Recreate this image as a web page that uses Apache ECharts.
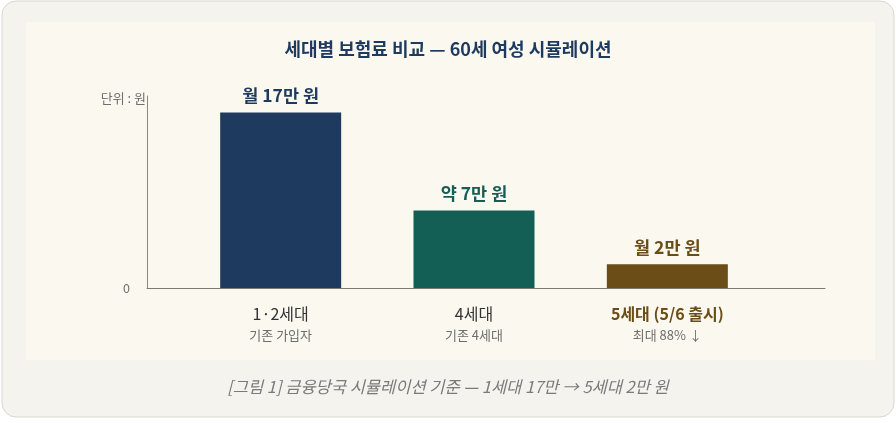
<!DOCTYPE html>
<html>
<head>
<meta charset="utf-8">
<script src="https://cdn.jsdelivr.net/npm/echarts@6/dist/echarts.min.js"></script>
<style>
html,body{margin:0;padding:0;background:#ffffff;}
#chart{width:896px;height:423px;}
</style>
</head>
<body>
<div id="chart"></div>
<script>
// 세대별 월 보험료 (60세 여성, 원)
var categories = ['1·2세대', '4세대', '5세대 (5/6 출시)'];
var subLabels = ['기존 가입자', '기존 4세대', '최대 88% ↓'];
var premiums = [170000, 75000, 23000];
var valueLabels = ['월 17만 원', '약 7만 원', '월 2만 원'];
var barColors = ['#1f3a5f', '#135e55', '#6b4d17'];
var yMax = 186000;

var FONT = "'Noto Sans CJK KR', 'Noto Sans', sans-serif";

var chart = echarts.init(document.getElementById('chart'));

var barData = [];
for (var i = 0; i < premiums.length; i++) {
	barData.push({
		value: premiums[i],
		itemStyle: { color: barColors[i] },
		label: { color: barColors[i] }
	});
}

var option = {
	backgroundColor: 'transparent',
	textStyle: { fontFamily: FONT },
	graphic: [
		{
			type: 'rect', z: -10,
			shape: { x: 2, y: 1, width: 892, height: 416, r: 14 },
			style: { fill: '#f4f3ed', stroke: '#d9d7d0', lineWidth: 1 }
		},
		{
			type: 'rect', z: -9,
			shape: { x: 26, y: 22, width: 849, height: 338 },
			style: { fill: '#faf8ef' }
		}
	],
	title: [
		{
			text: '세대별 보험료 비교 — 60세 여성 시뮬레이션',
			left: 'center', top: 35,
			textStyle: { fontFamily: FONT, fontSize: 18, fontWeight: 'bold', color: '#1f3a5f' }
		},
		{
			text: '[그림 1] 금융당국 시뮬레이션 기준 — 1세대 17만 → 5세대 2만 원',
			left: 'center', top: 373,
			textStyle: { fontFamily: FONT, fontSize: 16.5, fontWeight: 'normal', fontStyle: 'italic', color: '#7a7a7a' }
		}
	],
	grid: [
		{ left: 184, right: 132, top: 96, bottom: 135 },
		{ left: 147, right: 71, top: 96, bottom: 135 }
	],
	xAxis: [
		{
			type: 'category', gridIndex: 0, data: categories,
			axisLine: { show: false }, axisTick: { show: false },
			axisLabel: {
				margin: 15,
				formatter: function (val, idx) {
					var head = idx === 2 ? '{h|' + val + '}' : '{a|' + val + '}';
					return head + '\n{b|' + subLabels[idx] + '}';
				},
				rich: {
					a: { fontFamily: FONT, fontSize: 16, color: '#333333', lineHeight: 22 },
					h: { fontFamily: FONT, fontSize: 16, fontWeight: 'bold', color: '#6b4d17', lineHeight: 22 },
					b: { fontFamily: FONT, fontSize: 13, color: '#6e6e6e', lineHeight: 20 }
				}
			}
		},
		{
			type: 'value', gridIndex: 1, min: 0, max: 1,
			axisLine: { show: true, lineStyle: { color: '#7d7a72', width: 1 } },
			axisTick: { show: false }, axisLabel: { show: false }, splitLine: { show: false }
		}
	],
	yAxis: [
		{
			type: 'value', gridIndex: 0, min: 0, max: yMax,
			show: false, splitLine: { show: false }
		},
		{
			type: 'value', gridIndex: 1, min: 0, max: yMax, interval: yMax,
			name: '단위 : 원', nameLocation: 'end', nameGap: -2,
			nameTextStyle: { fontFamily: FONT, fontSize: 13, color: '#6e6e6e', align: 'right', verticalAlign: 'middle', padding: [0, 1, 0, 0] },
			axisLine: { show: true, lineStyle: { color: '#8a877f', width: 1 } },
			axisTick: { show: false }, splitLine: { show: false },
			axisLabel: {
				margin: 17, fontFamily: FONT, fontSize: 12.5, color: '#6e6e6e',
				formatter: function (v) { return v === 0 ? '0' : ''; }
			}
		}
	],
	series: [
		{
			type: 'bar', xAxisIndex: 0, yAxisIndex: 0,
			barWidth: 121,
			data: barData,
			label: {
				show: true, position: 'top', distance: 8,
				fontFamily: FONT, fontSize: 17.5, fontWeight: 'bold',
				formatter: function (p) { return valueLabels[p.dataIndex]; }
			}
		}
	]
};

chart.setOption(option);
</script>
</body>
</html>
